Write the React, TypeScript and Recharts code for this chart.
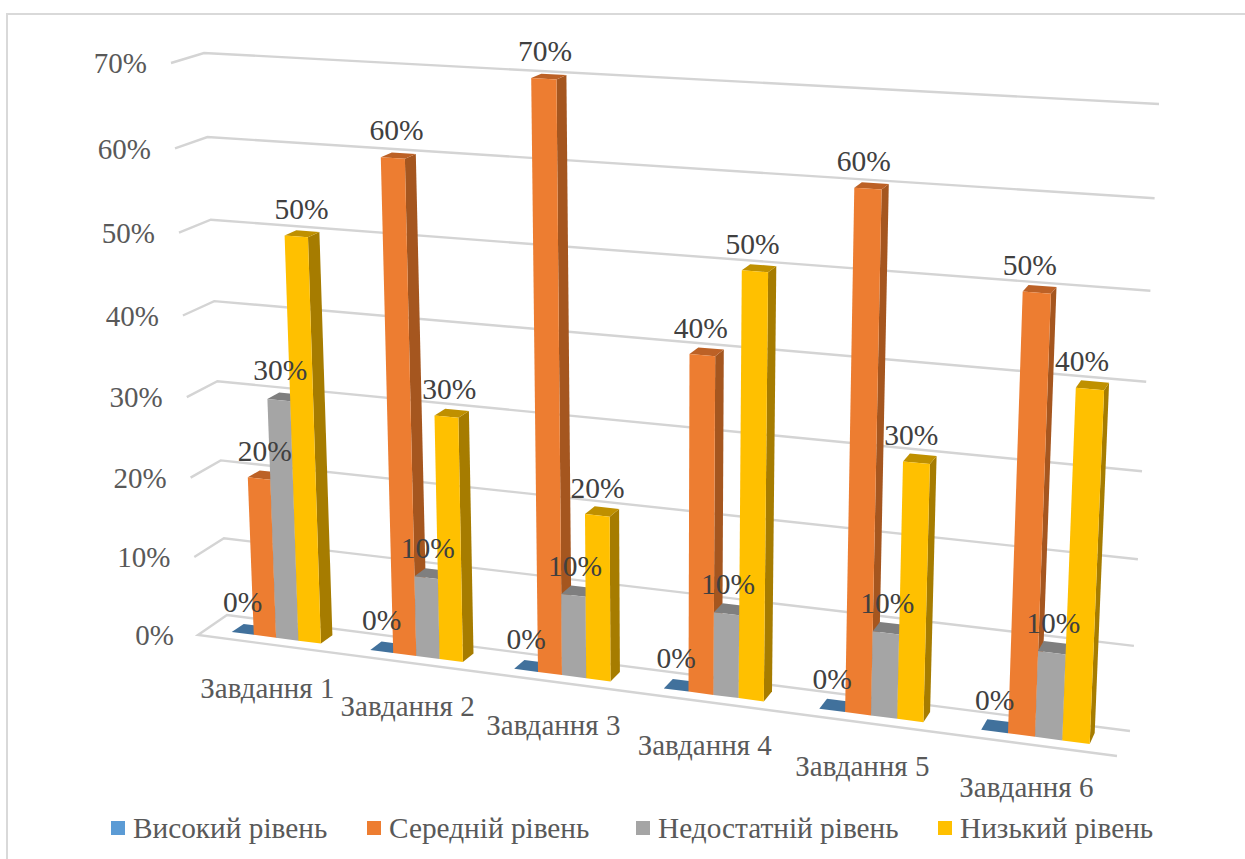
import { BarChart, Bar, XAxis, YAxis, CartesianGrid, Legend, LabelList } from 'recharts'

const categories = ['Завдання 1', 'Завдання 2', 'Завдання 3', 'Завдання 4', 'Завдання 5', 'Завдання 6']
const high = [0, 0, 0, 0, 0, 0]
const medium = [20, 60, 70, 40, 60, 50]
const insufficient = [30, 10, 10, 10, 10, 10]
const low = [50, 30, 20, 50, 30, 40]
const yTicks = [0, 10, 20, 30, 40, 50, 60, 70]

const data = categories.map((name, i) => ({
  name,
  high: high[i],
  medium: medium[i],
  insufficient: insufficient[i],
  low: low[i],
}))

const FONT = '"Liberation Serif", serif'

// plot area inside the svg, the 3D look is a projection of it
const PLOT = { left: 100, right: 1100, top: 100, bottom: 800 }
const BAR_SIZE = 27
const BAR_LEFT = 129.33
const BAR_RIGHT = 1070.67
const LEGEND_LEFT = [111, 367, 636, 938]

type Pt = [number, number]

// maps a rectangle onto a quad [bottom-left, bottom-right, top-right, top-left]
function quadMap(x0: number, x1: number, quad: Pt[]) {
  const [[ax, ay], [bx, by], [cx, cy], [dx, dy]] = quad
  const dx1 = bx - cx
  const dx2 = dx - cx
  const sx = ax - bx + cx - dx
  const dy1 = by - cy
  const dy2 = dy - cy
  const sy = ay - by + cy - dy
  const den = dx1 * dy2 - dx2 * dy1
  const g = (sx * dy2 - dx2 * sy) / den
  const h = (dx1 * sy - sx * dy1) / den
  const a = bx - ax + g * bx
  const b = dx - ax + h * dx
  const d = by - ay + g * by
  const e = dy - ay + h * dy
  return (x: number, y: number): Pt => {
    const u = (x - x0) / (x1 - x0)
    const v = (PLOT.bottom - y) / (PLOT.bottom - PLOT.top)
    const w = g * u + h * v + 1
    return [(a * u + b * v + ax) / w, (d * u + e * v + ay) / w]
  }
}

const wallFront = quadMap(PLOT.left, PLOT.right, [[198, 635], [1117, 756], [1142, 119], [171, 63]])
const wallBack = quadMap(PLOT.left, PLOT.right, [[227, 615], [1130, 731], [1159, 104], [204, 53]])
const barFront = quadMap(BAR_LEFT, BAR_RIGHT, [[232, 632], [1090, 744], [1116, 109], [209, 61]])
const barBack = quadMap(BAR_LEFT, BAR_RIGHT, [[244, 624], [1095, 733], [1121, 104], [221, 57]])

const pts = (list: Pt[]) => list.map((p) => `${p[0].toFixed(1)},${p[1].toFixed(1)}`).join(' ')

const faceColors: Record<string, { top: string; side: string }> = {
  '#5b9bd5': { top: '#41719c', side: '#3f6d97' },
  '#ed7d31': { top: '#bc6126', side: '#a5561f' },
  '#a5a5a5': { top: '#7f7f7f', side: '#787878' },
  '#ffc000': { top: '#bf9000', side: '#a67c00' },
}

const Bar3D = (props: any) => {
  const { x, y, width, height, fill } = props
  const bottom = y + height
  const right = x + width
  const fl = barFront(x, bottom)
  const fr = barFront(right, bottom)
  const ftr = barFront(right, y)
  const ftl = barFront(x, y)
  const bbr = barBack(right, bottom)
  const btr = barBack(right, y)
  const btl = barBack(x, y)
  const c = faceColors[fill]
  return (
    <g>
      {height > 0 && <polygon points={pts([fr, bbr, btr, ftr])} fill={c.side} />}
      <polygon points={pts([ftl, ftr, btr, btl])} fill={c.top} />
      {height > 0 && <polygon points={pts([fl, fr, ftr, ftl])} fill={fill} />}
    </g>
  )
}

const barLabel = (shiftOf: (tx: number) => number, lift: number) => (props: any) => {
  const { x, y, width, value } = props
  const [tx, ty] = barFront(x + width / 2, y)
  return (
    <text x={tx + shiftOf(tx)} y={ty - lift} textAnchor="middle" dy="0.35em" fontSize={29.5} fontFamily={FONT} fill="#404040">
      {value}%
    </text>
  )
}

const leaning = (tx: number) => 6 - (tx - 250) * 0.0165
const HighLabel = barLabel(() => 0, 32)
const MediumLabel = barLabel(leaning, 28)
const InsufficientLabel = barLabel(() => 1.5, 30)
const LowLabel = barLabel(leaning, 28)

const GridLevel = (props: any) => {
  const y = props.y1
  const left = wallFront(PLOT.left, y)
  const corner = wallBack(PLOT.left, y)
  const end = wallBack(PLOT.right, y)
  const line = y === PLOT.bottom ? [wallFront(PLOT.right, y), left, corner, end] : [left, corner, end]
  return <polyline key={props.key} points={pts(line)} fill="none" stroke="#d4d4d4" strokeWidth={2.4} />
}

const YTick = (props: any) => {
  const [fx, fy] = wallFront(PLOT.left, props.y)
  return (
    <text x={fx - 24} y={fy} textAnchor="end" dy="0.35em" fontSize={29} fontFamily={FONT} fill="#595959">
      {props.payload.value}%
    </text>
  )
}

const XTick = (props: any) => {
  const [fx, fy] = barFront(props.x, PLOT.bottom)
  return (
    <text x={fx - 9} y={fy + 50} textAnchor="middle" dy="0.35em" fontSize={29} fontFamily={FONT} fill="#595959">
      {props.payload.value}
    </text>
  )
}

const LegendRow = ({ payload }: any) => (
  <div style={{ position: 'relative', height: 30, fontFamily: FONT, fontSize: 29.3, color: '#595959', lineHeight: '30px' }}>
    {payload.map((item: any, i: number) => (
      <span key={item.value} style={{ position: 'absolute', left: LEGEND_LEFT[i], top: 0, display: 'flex', alignItems: 'center', gap: 8, whiteSpace: 'nowrap' }}>
        <span style={{ width: 14, height: 14, background: item.color, display: 'inline-block' }} />
        {item.value}
      </span>
    ))}
  </div>
)

export default function App() {
  return (
    <div style={{ position: 'absolute', left: 0, top: 0, width: 1245, height: 859, background: '#fff', overflow: 'hidden' }}>
      <div style={{ position: 'absolute', left: 6, top: 13, width: 1239, height: 846, borderLeft: '2px solid #d9d9d9', borderTop: '2px solid #d9d9d9' }} />
      <BarChart
        width={1245}
        height={859}
        data={data}
        barSize={BAR_SIZE}
        barGap={0}
        margin={{ top: PLOT.top, right: 145, bottom: 0, left: 0 }}
        style={{ position: 'absolute', left: 0, top: 0 }}
      >
        <CartesianGrid vertical={false} horizontal={GridLevel} />
        <XAxis dataKey="name" height={29} axisLine={false} tickLine={false} interval={0} tick={XTick} />
        <YAxis width={100} domain={[0, 70]} ticks={yTicks} axisLine={false} tickLine={false} tick={YTick} />
        <Legend
          verticalAlign="bottom"
          height={30}
          content={LegendRow}
          itemSorter={null}
          wrapperStyle={{ left: 0, top: 813, bottom: 'auto', width: 1245 }}
        />
        <Bar dataKey="high" name="Високий рівень" fill="#5b9bd5" shape={Bar3D} isAnimationActive={false}>
          <LabelList dataKey="high" content={HighLabel} />
        </Bar>
        <Bar dataKey="medium" name="Середній рівень" fill="#ed7d31" shape={Bar3D} isAnimationActive={false}>
          <LabelList dataKey="medium" content={MediumLabel} />
        </Bar>
        <Bar dataKey="insufficient" name="Недостатній рівень" fill="#a5a5a5" shape={Bar3D} isAnimationActive={false}>
          <LabelList dataKey="insufficient" content={InsufficientLabel} />
        </Bar>
        <Bar dataKey="low" name="Низький рівень" fill="#ffc000" shape={Bar3D} isAnimationActive={false}>
          <LabelList dataKey="low" content={LowLabel} />
        </Bar>
      </BarChart>
    </div>
  )
}
